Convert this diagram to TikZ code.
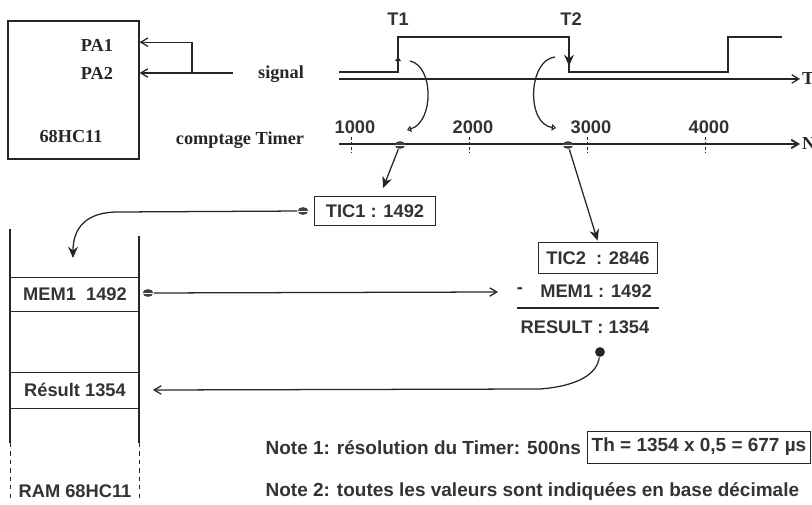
\documentclass[tikz,border=0pt]{standalone}
\usepackage{fontspec}
\setmainfont{Liberation Serif}
\setsansfont{Liberation Sans}
\usetikzlibrary{arrows.meta, shapes.geometric}

\tikzset{
  serif/.style={font=\fontsize{13}{15}\selectfont\bfseries, text=black!85},
  lab/.style={font=\sffamily\fontsize{13}{15}\selectfont\bfseries, text=black!80},
  note/.style={font=\sffamily\fontsize{13.5}{15}\selectfont\bfseries, text=black!80},
  capdot/.style={ellipse, fill=black!75, inner sep=0pt, minimum width=7.5pt, minimum height=5.5pt,
    path picture={\draw[white, line width=0.5pt] (path picture bounding box.west) -- (path picture bounding box.east);}},
  barb/.style={-{Straight Barb[length=5pt, width=6pt]}},
  fleche/.style={-{Stealth[length=8pt, width=7pt]}},
  petit/.style={-{Triangle[open, length=3pt, width=4.5pt]}},
}

\begin{document}
\begin{tikzpicture}[x=0.025cm, y=-0.025cm, line width=0.9pt, draw=black!85]
            \useasboundingbox (0,0) rectangle (812,505);

            % microcontroleur
            \node[draw, minimum width=3.275cm, minimum height=3.45cm] (mcu) at (73.5,90) {};
            \node[serif] (pa1) at (97,45) {PA1};
            \node[serif] (pa2) at (97,73) {PA2};
            \node[serif] (hc) at (71,137) {68HC11};
            \node[serif] (sig) at (281,74) {signal};
            \node[serif] (cpt) at (240,140) {comptage Timer};

            \coordinate (sigin) at (233,73);
            \coordinate (knee) at (192,73);
            \draw[barb] (sigin) -- (mcu.east |- pa2);
            \draw[barb] (knee) |- ([yshift=2pt]mcu.east |- pa1);

            % axes T et N
            \coordinate (t0) at (339,79);
            \coordinate (n0) at (339,144);
            \node[serif, anchor=west, inner sep=1pt] (tT) at (800,79) {T};
            \node[serif, anchor=west, inner sep=1pt] (tN) at (800,144) {N};
            \draw[barb] (t0) -- (tT.west);
            \draw[barb, line width=1.3pt] (n0) -- (tN.west);
            \foreach \x/\v in {351/1000, 469/2000, 587/3000, 705/4000} {
                \draw[dash pattern=on 2pt off 1.5pt, line width=0.6pt] (\x,137) -- (\x,152);
                \node[lab] (v\v) at (\x+4,127) {\v};
            }

            % signal
            \coordinate (e1) at (398,37);
            \coordinate (e2) at (569,37);
            \draw[line width=1.2pt] (339,72) -- (e1 |- 0,72) -- (e1) -- (e2) -- (e2 |- 0,72) -- (728,72) -- (728,37) -- (782,37);
            \node[lab] (lt1) at (398,19) {T1};
            \node[lab] (lt2) at (571,19) {T2};
            \draw[petit, line width=0.7pt] (398,65) -- (398,57);
            \draw[fleche] (e2) -- (569,66);

            % captures
            \node[capdot] (k1) at (400,145) {};
            \node[capdot] (k2) at (568,145) {};
            \coordinate (c1a) at (410,61);
            \coordinate (c1b) at (407,130);
            \coordinate (c2a) at (555,57);
            \coordinate (c2b) at (556,128);
            \draw[petit] (c1a) .. controls (434,66) and (434,122) .. (c1b);
            \draw[petit] (c2a) .. controls (528,60) and (526,124) .. (c2b);

            \node[lab, draw, line width=0.7pt, minimum width=3cm, minimum height=0.725cm] (tic1) at (375,211) {TIC1 : 1492};
            \node[lab, draw, line width=0.7pt, minimum width=2.975cm, minimum height=0.775cm] (tic2) at (598,258) {TIC2\ \ : 2846};
            \coordinate (p1) at (383,188);
            \draw[fleche] (k1) -- (p1);
            \draw[fleche, shorten >=1pt] (k2) -- (tic2.north);

            % RAM
            \draw (10,229) -- (10,443);
            \draw (139,236) -- (139,443);
            \draw[dash pattern=on 3pt off 3pt, line width=0.7pt] (10,443) -- (10,502);
            \draw[dash pattern=on 3pt off 3pt, line width=0.7pt] (139,443) -- (139,502);
            \foreach \y in {277, 311, 372, 408}
                \draw[line width=0.7pt] (10,\y) -- (139,\y);
            \node[lab] (mem1) at (75,294) {MEM1\ \ 1492};
            \node[lab] (res) at (75,390) {Résult 1354};
            \node[lab] (ram) at (75,491) {RAM 68HC11};

            \node[capdot] (d1) at (303,211) {};
            \coordinate (ramin) at (73,258);
            \draw[fleche] (d1) -- (118,212) .. controls (86,212) and (73,228) .. (ramin);

            \node[capdot] (d2) at (148,293) {};
            \coordinate (m2) at (498,292);
            \draw[barb] (d2) -- (m2);

            % soustraction
            \node[lab] (moins) at (520,291) {-};
            \node[lab] (mem1b) at (596,291) {MEM1 : 1492};
            \draw (517,308) -- (659,308);
            \node[lab] (result) at (585,327) {RESULT : 1354};
            \node[circle, fill=black!85, inner sep=0pt, minimum size=7pt] (rdot) at (600,352) {};
            \coordinate (r1) at (153,390);
            \draw[barb] (rdot) .. controls (597,374) and (578,386) .. (540,389) -- (r1);

            % notes
            \node[note, anchor=west, inner sep=0pt] (n1) at (265,448) {Note 1: résolution du Timer: 500ns};
            \node[note, draw, line width=0.7pt, anchor=west, inner xsep=3pt, minimum height=0.8cm] (th) at (587,447) {Th = 1354 x 0,5 = 677 µs};
            \node[note, anchor=west, inner sep=0pt] (n2) at (265,492) {Note 2: toutes les valeurs sont indiquées en base décimale};
\end{tikzpicture}
\end{document}
